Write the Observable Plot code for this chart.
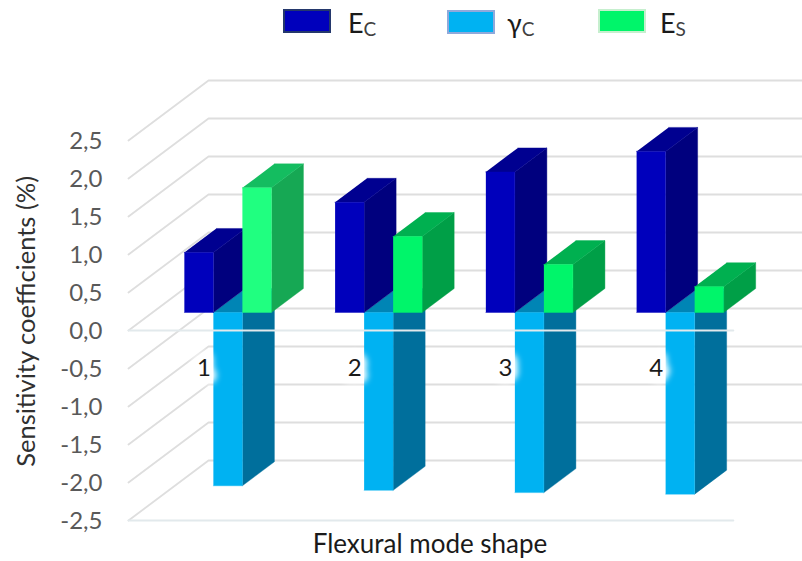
<!DOCTYPE html>
<html>
<head>
<meta charset="utf-8">
<script src="https://cdn.jsdelivr.net/npm/d3@7"></script>
<script src="https://cdn.jsdelivr.net/npm/@observablehq/plot@0.6"></script>
<style>
  html, body { margin: 0; padding: 0; background: #fff; }
  body { width: 802px; height: 561px; overflow: hidden; font-family: Lato, sans-serif; }
  #legend { position: relative; height: 58px; }
  #legend .swatch { position: absolute; box-sizing: border-box; width: 48px; height: 24px; border: 2px solid; }
  #legend .name { position: absolute; font-size: 27px; line-height: 32px; color: #1a1a1a; white-space: nowrap; }
  #legend .name sub { font-size: 19px; color: #404040; vertical-align: -3px; line-height: 0; }
  svg { display: block; }
</style>
</head>
<body>
<div id="legend"></div>
<div id="chart"></div>
<script>
// Sensitivity of the flexural modes to each material parameter
const modes = ["1", "2", "3", "4"];
const seriesNames = ["Ec", "gc", "Es"];
const ecValues = [0.79, 1.45, 1.85, 2.12];
const gcValues = [-2.28, -2.34, -2.37, -2.39];
const esValues = [1.64, 1.00, 0.63, 0.34];
const yTicks = [2.5, 2, 1.5, 1, 0.5, 0, -0.5, -1, -1.5, -2, -2.5];
const yTickLabels = ["2,5", "2,0", "1,5", "1,0", "0,5", "0,0", "-0,5", "-1,0", "-1,5", "-2,0", "-2,5"];

// Face colours of each column: front, side, top
const ecFaces = {front: "#0000bc", side: "#00007e", top: "#000090"};
const gcFaces = {front: "#00b2f2", side: "#006f9c", top: "#0085b5"};
const esFaces = [
  {front: "#20ff80", side: "#16a854", top: "#14bd60"},
  {front: "#00f56a", side: "#009f47", top: "#00b050"},
  {front: "#00f56a", side: "#009f47", top: "#00b050"},
  {front: "#00f56a", side: "#009f47", top: "#00b050"}
];

// Oblique view: one unit of depth shifts a point right along x and up along y
const depthX = 80 / 150.7;
const depthY = 60 / 76;
const barWidth = 0.1925;
const depthNear = 0.3;
const depthFar = 0.7;
const project = (u, v, d) => ({x: u + d * depthX, y: v + d * depthY});

// Column drawn as three polygons; the tall negative column sits behind the other two
const faces = [];
function addColumn(modeIndex, slot, value, colors, key) {
  const u0 = modeIndex + 0.5 + (slot - 1.5) * barWidth;
  const u1 = u0 + barWidth;
  const id = `${key}-${modeIndex}`;
  const push = (face, fill, pts) =>
    pts.forEach(([u, v, d]) => faces.push({id: `${id}-${face}`, fill, ...project(u, v, d)}));
  push("side", colors.side, [[u1, 0, depthNear], [u1, 0, depthFar], [u1, value, depthFar], [u1, value, depthNear]]);
  const capValue = Math.max(value, 0);
  push("top", colors.top, [[u0, capValue, depthNear], [u1, capValue, depthNear], [u1, capValue, depthFar], [u0, capValue, depthFar]]);
  push("front", colors.front, [[u0, 0, depthNear], [u1, 0, depthNear], [u1, value, depthNear], [u0, value, depthNear]]);
}
modes.forEach((_, i) => {
  addColumn(i, 1, gcValues[i], gcFaces, seriesNames[1]);
  addColumn(i, 0, ecValues[i], ecFaces, seriesNames[0]);
  addColumn(i, 2, esValues[i], esFaces[i], seriesNames[2]);
});

// Grid of the open box: back wall and left wall at every tick
const grid = yTicks.flatMap((t) => [
  {id: `wall-${t}`, ...project(0, t, 0)},
  {id: `wall-${t}`, ...project(0, t, 1)},
  {id: `wall-${t}`, ...project(modes.length, t, 1)}
]);
const frontLines = [0, -2.5].flatMap((t) => [
  {id: `front-${t}`, x: 0, y: t},
  {id: `front-${t}`, x: modes.length + 0.012, y: t}
]);
const modeLabels = modes.map((m, i) => ({label: m, x: i + 0.5, y: -0.5}));

const chart = Plot.plot({
  width: 802,
  height: 503,
  marginLeft: 128,
  marginRight: 71,
  marginTop: 82,
  marginBottom: 41,
  style: {fontFamily: "Lato, sans-serif", background: "#fff"},
  x: {domain: [0, modes.length], axis: null},
  y: {domain: [-2.5, 2.5], axis: null},
  color: {type: "identity"},
  marks: [
    Plot.line(grid, {x: "x", y: "y", z: "id", stroke: "#dedede", strokeWidth: 1.8}),
    Plot.line(faces, {x: "x", y: "y", z: "id", fill: "fill", stroke: "fill", strokeWidth: 0.4}),
    Plot.line(frontLines, {x: "x", y: "y", z: "id", stroke: "#e2e9ec", strokeWidth: 2}),
    Plot.text(modeLabels, {x: "x", y: "y", text: "label", fontSize: 24, fill: "white", stroke: "white", strokeWidth: 14, imageFilter: "blur(3px)"}),
    Plot.text(modeLabels, {x: "x", y: "y", text: "label", fontSize: 24, fill: "#1a1a1a"}),
    Plot.text(yTicks, {x: () => 0, y: (d) => d, text: (_, i) => yTickLabels[i], textAnchor: "end", dx: -26, dy: 1, fontSize: 24, fill: "#595959"}),
    Plot.text(["Sensitivity coefficients (%)"], {x: () => 0, y: () => 0.12, rotate: -90, dx: -102, fontSize: 25.5, fill: "#303030"}),
    Plot.text(["Flexural mode shape"], {x: () => 2, y: () => -2.5, dy: 24, fontSize: 26, fill: "#1a1a1a"})
  ]
});
document.getElementById("chart").appendChild(chart);

// Legend above the plot
const legendItems = [
  {left: 283, top: 9, fill: "#0000bc", border: "#24386c", textLeft: 348, name: "E", sub: "C"},
  {left: 447, top: 10, fill: "#00b2f2", border: "#8fa9db", textLeft: 507, name: "γ", sub: "C"},
  {left: 598, top: 9, fill: "#00f56a", border: "#c6efce", textLeft: 660, name: "E", sub: "S"}
];
const legend = document.getElementById("legend");
for (const item of legendItems) {
  const swatch = document.createElement("div");
  swatch.className = "swatch";
  swatch.style.cssText = `left:${item.left}px;top:${item.top}px;background:${item.fill};border-color:${item.border}`;
  const name = document.createElement("div");
  name.className = "name";
  name.style.cssText = `left:${item.textLeft}px;top:7px`;
  name.innerHTML = `${item.name}<sub>${item.sub}</sub>`;
  legend.append(swatch, name);
}
</script>
</body>
</html>
